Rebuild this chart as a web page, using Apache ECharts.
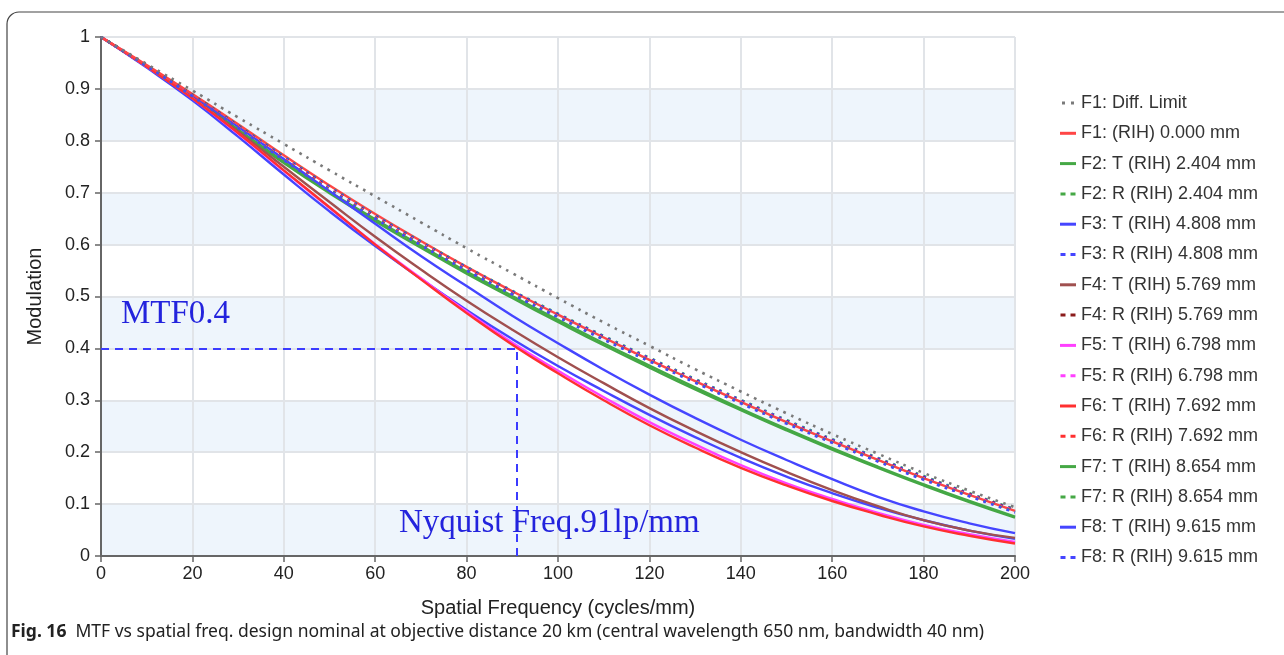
<!DOCTYPE html>
<html>
<head>
<meta charset="utf-8">
<title>MTF vs spatial frequency</title>
<script src="https://cdn.jsdelivr.net/npm/echarts@6/dist/echarts.min.js"></script>
<style>
html,body{margin:0;padding:0;background:#fff;}
#main{width:1284px;height:655px;}
</style>
</head>
<body>
<div id="main"></div>
<script>
// spatial frequency (cycles/mm)
var freq = [0,10,20,30,40,50,60,70,80,90,100,110,120,130,140,150,160,170,180,190,200];
var xTicks = [0,20,40,60,80,100,120,140,160,180,200];
var yTicks = [0,0.1,0.2,0.3,0.4,0.5,0.6,0.7,0.8,0.9,1];

// modulation
var diffLimit = [1,0.948,0.897,0.845,0.794,0.743,0.693,0.643,0.593,0.545,0.497,0.450,0.405,0.360,0.317,0.275,0.235,0.197,0.160,0.126,0.094];
var f1   = [1,0.946,0.890,0.832,0.772,0.714,0.659,0.607,0.557,0.510,0.465,0.421,0.378,0.337,0.297,0.258,0.221,0.185,0.150,0.118,0.087];
var f2T  = [1,0.943,0.885,0.822,0.760,0.702,0.649,0.598,0.548,0.501,0.455,0.410,0.367,0.325,0.284,0.245,0.208,0.172,0.138,0.106,0.076];
var f2R  = [1,0.945,0.889,0.830,0.770,0.712,0.657,0.606,0.557,0.511,0.467,0.424,0.382,0.341,0.301,0.262,0.225,0.189,0.154,0.121,0.090];
var f3T  = [1,0.944,0.887,0.827,0.765,0.703,0.640,0.578,0.520,0.463,0.410,0.359,0.311,0.266,0.224,0.185,0.148,0.114,0.086,0.063,0.044];
var f3R  = [1,0.945,0.888,0.829,0.769,0.711,0.656,0.605,0.556,0.510,0.466,0.423,0.381,0.340,0.300,0.261,0.224,0.188,0.153,0.120,0.089];
var f4T  = [1,0.943,0.883,0.818,0.750,0.682,0.615,0.552,0.492,0.436,0.383,0.333,0.285,0.241,0.200,0.162,0.127,0.096,0.069,0.049,0.035];
var f4R  = [1,0.945,0.888,0.828,0.767,0.709,0.654,0.603,0.554,0.508,0.464,0.421,0.379,0.338,0.298,0.259,0.222,0.186,0.151,0.119,0.088];
var f5T  = [1,0.943,0.882,0.814,0.742,0.671,0.601,0.535,0.471,0.411,0.357,0.306,0.258,0.215,0.175,0.140,0.110,0.083,0.060,0.042,0.027];
var f5R  = [1,0.944,0.887,0.827,0.766,0.708,0.653,0.602,0.553,0.507,0.463,0.420,0.378,0.337,0.297,0.258,0.221,0.185,0.150,0.118,0.087];
var f6T  = [1,0.943,0.882,0.815,0.743,0.672,0.600,0.533,0.468,0.407,0.352,0.300,0.252,0.209,0.170,0.136,0.106,0.080,0.057,0.039,0.024];
var f6R  = [1,0.944,0.887,0.826,0.765,0.707,0.652,0.601,0.552,0.506,0.462,0.419,0.377,0.336,0.296,0.257,0.220,0.184,0.149,0.117,0.086];
var f7T  = [1,0.943,0.884,0.820,0.757,0.699,0.645,0.594,0.544,0.497,0.451,0.406,0.363,0.321,0.281,0.242,0.205,0.170,0.136,0.104,0.074];
var f7R  = [1,0.944,0.886,0.825,0.764,0.706,0.651,0.600,0.551,0.505,0.461,0.418,0.376,0.335,0.295,0.256,0.219,0.183,0.148,0.116,0.085];
var f8T  = [1,0.941,0.878,0.808,0.735,0.664,0.597,0.534,0.474,0.418,0.366,0.318,0.272,0.229,0.189,0.153,0.121,0.093,0.069,0.049,0.033];
var f8R  = [1,0.944,0.886,0.825,0.763,0.705,0.650,0.599,0.550,0.504,0.460,0.417,0.375,0.334,0.294,0.255,0.218,0.182,0.147,0.115,0.084];

// MTF 0.4 / Nyquist guide
var nyquist = 91;
var mtfLevel = 0.4;

var names = ['F1: Diff. Limit','F1: (RIH) 0.000 mm','F2: T (RIH) 2.404 mm','F2: R (RIH) 2.404 mm',
	'F3: T (RIH) 4.808 mm','F3: R (RIH) 4.808 mm','F4: T (RIH) 5.769 mm','F4: R (RIH) 5.769 mm',
	'F5: T (RIH) 6.798 mm','F5: R (RIH) 6.798 mm','F6: T (RIH) 7.692 mm','F6: R (RIH) 7.692 mm',
	'F7: T (RIH) 8.654 mm','F7: R (RIH) 8.654 mm','F8: T (RIH) 9.615 mm','F8: R (RIH) 9.615 mm'];
var curves = [diffLimit,f1,f2T,f2R,f3T,f3R,f4T,f4R,f5T,f5R,f6T,f6R,f7T,f7R,f8T,f8R];
var colors = ['#7a7a7a','#ff4646','#45a845','#45a845','#4545ff','#4545ff','#a0504f','#8b1c1c',
	'#ff40ff','#ff40ff','#ff3030','#ff3030','#45a845','#45a845','#4545ff','#4545ff'];
var dotted = [true,false,false,true,false,true,false,true,false,true,false,true,false,true,false,true];

// draw order: solid lower curves first, dotted and diff limit on top
var drawOrder = [12,2,14,4,6,8,10,1,3,5,7,9,11,13,15,0];

var FONT = 'Liberation Sans';

// legend icons: short bar for solid, two dashes for dotted
var solidIcon = 'path://M0,0H16V3H0Z';
var dashIcon = 'path://M0,0H5V3H0Z M10,0H15V3H10Z';
var dotIcon = 'path://M0,0H3V3H0Z M9,0H12V3H9Z';

function pairs(ys){
	var arr=[];
	for(var i=0;i<freq.length;i++){
		arr.push([freq[i],ys[i]]);
	}
	return arr;
}

var legendData=[];
for(var j=0;j<names.length;j++){
	legendData.push({
		name:names[j],
		icon: j==0 ? dotIcon : (dotted[j] ? dashIcon : solidIcon)
	});
}

var series=[];
for(var k=0;k<drawOrder.length;k++){
	var i=drawOrder[k];
	var s={
		name:names[i],
		type:'line',
		smooth:true,
		symbol:'none',
		data:pairs(curves[i]),
		color:colors[i],
		itemStyle:{color:colors[i]},
		lineStyle:{
			color:colors[i],
			width: dotted[i] ? 2.6 : 2.4,
			type: dotted[i] ? [2.6,5.6] : 'solid'
		},
		emphasis:{disabled:true}
	};
	if(i==0){
		s.markLine={
			silent:true,
			symbol:['none','none'],
			label:{show:false},
			lineStyle:{color:'#3b3bff',width:2,type:[8,6]},
			data:[
				[{coord:[0,mtfLevel]},{coord:[nyquist,mtfLevel]}],
				[{coord:[nyquist,0]},{coord:[nyquist,mtfLevel]}]
			]
		};
	}
	series.push(s);
}

var myChart = echarts.init(document.getElementById('main'));
myChart.setOption({
	animation:false,
	backgroundColor:'#fff',
	textStyle:{fontFamily:FONT},
	grid:{left:101,right:269,top:37,bottom:99},
	legend:{
		data:legendData,
		orient:'vertical',
		left:1055,
		top:88,
		itemWidth:16,
		itemHeight:3,
		itemGap:10.3,
		textStyle:{fontFamily:FONT,fontSize:18,color:'#333',lineHeight:20}
	},
	xAxis:{
		type:'value',
		min:xTicks[0],
		max:xTicks[xTicks.length-1],
		interval:xTicks[1]-xTicks[0],
		name:'Spatial Frequency (cycles/mm)',
		nameLocation:'middle',
		nameGap:42,
		nameTextStyle:{fontFamily:FONT,fontSize:20,color:'#222'},
		axisLine:{lineStyle:{color:'#666',width:2}},
		axisTick:{length:6,lineStyle:{color:'#666',width:1.5}},
		axisLabel:{fontFamily:FONT,fontSize:18,color:'#222',margin:9},
		splitLine:{show:true,lineStyle:{color:'#e1e4e8',width:2}}
	},
	yAxis:{
		type:'value',
		min:yTicks[0],
		max:yTicks[yTicks.length-1],
		interval:yTicks[1]-yTicks[0],
		name:'Modulation',
		nameLocation:'middle',
		nameGap:56,
		nameTextStyle:{fontFamily:FONT,fontSize:20,color:'#222'},
		axisLine:{show:true,lineStyle:{color:'#666',width:2}},
		axisTick:{show:true,length:6,lineStyle:{color:'#666',width:1.5}},
		axisLabel:{fontFamily:FONT,fontSize:18,color:'#222',margin:11},
		splitLine:{show:true,lineStyle:{color:'#e1e4e8',width:2}},
		splitArea:{show:true,areaStyle:{color:['#eef5fc','#ffffff']}}
	},
	graphic:[
		{
			type:'rect',
			silent:true,
			shape:{x:7,y:12,width:1400,height:700,r:[12,0,0,0]},
			style:{fill:'none',stroke:'#444',lineWidth:1.2},
			z:-1
		},
		{
			type:'text',
			left:121,
			top:298,
			z:100,
			style:{text:'MTF0.4',fontFamily:'Liberation Serif',fontSize:33,fill:'#2323dd'}
		},
		{
			type:'text',
			left:399,
			top:507,
			z:100,
			style:{text:'Nyquist Freq.91lp/mm',fontFamily:'Liberation Serif',fontSize:33,fill:'#2323dd'}
		},
		{
			type:'text',
			left:11,
			top:623,
			z:100,
			style:{
				text:'{b|Fig. 16}  MTF vs spatial freq. design nominal at objective distance 20 km (central wavelength 650 nm, bandwidth 40 nm)',
				fontFamily:'Noto Sans',
				fontSize:17.5,
				fill:'#222',
				rich:{b:{fontFamily:'Noto Sans',fontSize:17.5,fontWeight:'bold',fill:'#222'}}
			}
		}
	],
	series:series
});
</script>
</body>
</html>
